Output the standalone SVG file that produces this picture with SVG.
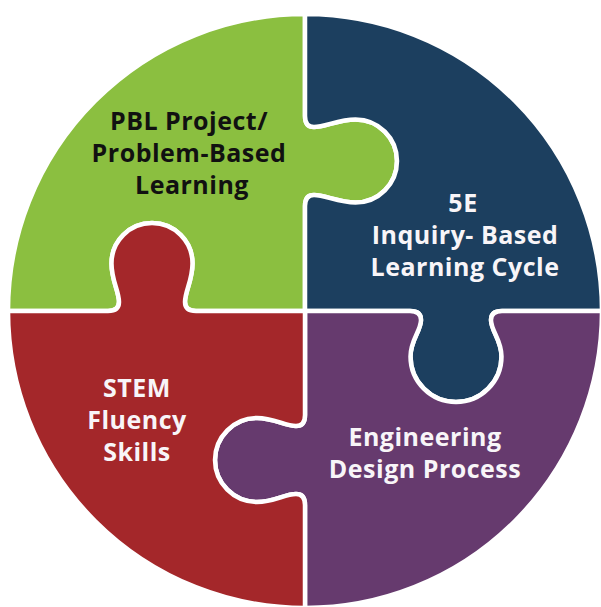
<svg xmlns="http://www.w3.org/2000/svg" width="601" height="607" viewBox="0 0 601 607">
  <style>
    .piece { stroke: #ffffff; stroke-width: 4.5; stroke-linejoin: round; }
    .label { font-family: "Open Sans", "Liberation Sans", sans-serif; font-weight: 700; font-size: 25px; letter-spacing: 0.5px; text-anchor: middle; }
    .dark { fill: #111111; }
    .light { fill: #f8f5f8; }
  </style>
  <rect width="601" height="607" fill="#ffffff"/>

  <!-- Four interlocking puzzle pieces forming one circle (centre 305,311, r 297) -->
  <g id="piece-pbl">
    <path class="piece" fill="#8bbf40" d="M305,311 L305,206 C305,199 308,195 314,195 C325,195 338.5,202.5 355.5,202.5 A41.5,41.5 0 0 0 397,161 A41.5,41.5 0 0 0 355.5,119.5 C338.5,119.5 325,127 314,127 C308,127 305,123 305,116 L305,14 A297,297 0 0 0 8,311 L108,311 C115,311 119,308 119,302 C119,291 111.5,280.5 111.5,263.5 A40.5,40.5 0 0 1 152,223 A40.5,40.5 0 0 1 192.5,263.5 C192.5,280.5 185,291 185,302 C185,308 189,311 196,311 Z"/>
    <text class="label dark" x="189" y="130">PBL Project/</text>
    <text class="label dark" x="189" y="162">Problem-Based</text>
    <text class="label dark" x="192" y="194">Learning</text>
  </g>

  <g id="piece-5e">
    <path class="piece" fill="#1c3f5f" d="M305,311 L410,311 C417,311 421,314 421,320 C421,331 410.5,339.5 410.5,356.5 A45.5,45.5 0 0 0 456,402 A45.5,45.5 0 0 0 501.5,356.5 C501.5,339.5 491,331 491,320 C491,314 495,311 502,311 L602,311 A297,297 0 0 0 305,14 L305,116 C305,123 308,127 314,127 C325,127 338.5,119.5 355.5,119.5 A41.5,41.5 0 0 1 397,161 A41.5,41.5 0 0 1 355.5,202.5 C338.5,202.5 325,195 314,195 C308,195 305,199 305,206 Z"/>
    <text class="label light" x="463" y="212">5E</text>
    <text class="label light" x="465" y="244">Inquiry- Based</text>
    <text class="label light" x="465" y="276">Learning Cycle</text>
  </g>

  <g id="piece-engineering">
    <path class="piece" fill="#663a6e" d="M305,311 L305,415 C305,422 302,426 296,426 C285,426 274,418 257,418 A42,42 0 0 0 215,460 A42,42 0 0 0 257,502 C274,502 285,494 296,494 C302,494 305,498 305,505 L305,608 A297,297 0 0 0 602,311 L502,311 C495,311 491,314 491,320 C491,331 501.5,339.5 501.5,356.5 A45.5,45.5 0 0 1 456,402 A45.5,45.5 0 0 1 410.5,356.5 C410.5,339.5 421,331 421,320 C421,314 417,311 410,311 Z"/>
    <text class="label light" x="425" y="446">Engineering</text>
    <text class="label light" x="425" y="478">Design Process</text>
  </g>

  <g id="piece-stem">
    <path class="piece" fill="#a4272a" d="M305,311 L196,311 C189,311 185,308 185,302 C185,291 192.5,280.5 192.5,263.5 A40.5,40.5 0 0 0 152,223 A40.5,40.5 0 0 0 111.5,263.5 C111.5,280.5 119,291 119,302 C119,308 115,311 108,311 L8,311 A297,297 0 0 0 305,608 L305,505 C305,498 302,494 296,494 C285,494 274,502 257,502 A42,42 0 0 1 215,460 A42,42 0 0 1 257,418 C274,418 285,426 296,426 C302,426 305,422 305,415 Z"/>
    <text class="label light" x="137" y="397">STEM</text>
    <text class="label light" x="137" y="429">Fluency</text>
    <text class="label light" x="137" y="461">Skills</text>
  </g>

  <!-- The pieces meet edge to edge, so there are no separate connector lines -->
  <g id="connectors"/>
</svg>
